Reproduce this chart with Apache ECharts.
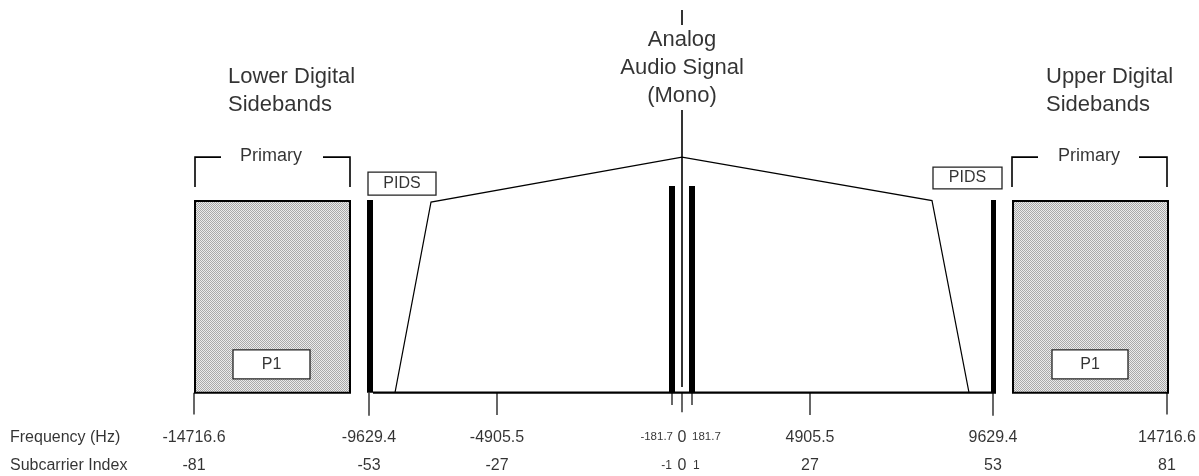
<!DOCTYPE html>
<html><head><meta charset="utf-8">
<script src="https://cdn.jsdelivr.net/npm/echarts@6/dist/echarts.min.js"></script>
<style>html,body{margin:0;padding:0;background:#fff}#c{width:1199px;height:476px}</style>
</head><body><div id="c"></div>
<script>
// ---- Axis ticks (schematic positions, carrier at 0) ----
const freqLabels = ['-14716.6','-9629.4','-4905.5','-181.7','0','181.7','4905.5','9629.4','14716.6'];
const subcarrierLabels = ['-81','-53','-27','-1','0','1','27','53','81'];
const tickPos = [-488,-313,-185,-10,0,10,128,311,485];
const tickDepth = [-0.092,-0.097,-0.094,-0.052,-0.082,-0.052,-0.094,-0.097,-0.092];
const freqLabelPos = [-488,-313,-185,-9,0,10,128,311,485];
const subLabelPos = [-488,-313,-185,-10,0,11,128,311,485];
const labelAlign = ['center','center','center','right','center','left','center','center','center'];
const smallLabel = [false,false,false,true,false,true,false,false,false];
const freqRowY = -0.187, subRowY = -0.308;
const rowTitles = ['Frequency (Hz)','Subcarrier Index'];

// ---- Spectrum blocks [x0, x1, y0, y1] ----
const primaryBlocks = [[-487,-332,0,0.805],[331,486,0,0.805]];
const p1Boxes = [[-449,-372,0.058,0.180],[370,446,0.058,0.180]];
const pidsBoxes = [[-314,-246,0.830,0.927],[251,320,0.856,0.948]];
const pidsBars = [[-315,-309,0,0.81],[309,314,0,0.81]];
const centerBars = [[-13,-7,0,0.868],[7,13,0,0.868]];

// ---- Lines ----
const analogShape = [[-287,0],[-251,0.801],[0,0.990],[250,0.807],[287,0]];
const baseline = [[-309,0],[314,0]];
const carrierLine = [[0,0.024],[0,1.188]];
const carrierTick = [[0,1.545],[0,1.608]];
const bracketLeft = [[[-487,0.864],[-487,0.99],[-461,0.99]],[[-359,0.99],[-332,0.99],[-332,0.864]]];
const bracketRight = [[[330,0.864],[330,0.99],[356,0.99]],[[457,0.99],[485,0.99],[485,0.864]]];

// ---- Text ----
const titles = [
  {text:'Lower Digital\nSidebands', x:-454, y:1.268, align:'left'},
  {text:'Analog\nAudio Signal\n(Mono)', x:0, y:1.364, align:'center'},
  {text:'Upper Digital\nSidebands', x:364, y:1.268, align:'left'}
];
const primaryLabels = [{text:'Primary', x:-411, y:0.995},{text:'Primary', x:407, y:0.995}];
const pidsLabels = ['PIDS','PIDS'];
const p1Labels = ['P1','P1'];

const FONT = '"Liberation Sans", Arial, Helvetica, sans-serif';
const INK = '#000';

// stipple pattern
const pc = document.createElement('canvas'); pc.width = 2; pc.height = 2;
const g = pc.getContext('2d');
g.fillStyle = '#ebebeb'; g.fillRect(0,0,2,2);
g.fillStyle = '#a9a9a9'; g.fillRect(0,0,1,1); g.fillRect(1,1,1,1);
const stipple = {image: pc, repeat: 'repeat'};

function rectSeries(data, style, z) {
  return {
    type: 'custom', z: z, silent: true,
    data: data,
    encode: {x:[0,1], y:[2,3]},
    renderItem: function(params, api) {
      const a = api.coord([api.value(0), api.value(3)]);
      const b = api.coord([api.value(1), api.value(2)]);
      return {type:'rect', shape:{x:a[0], y:a[1], width:b[0]-a[0], height:b[1]-a[1]}, style: style};
    }
  };
}
function boxLabelSeries(boxes, labels, fontSize, z) {
  return {
    type:'scatter', z:z, silent:true, symbolSize:1, itemStyle:{color:'rgba(0,0,0,0)'},
    data: boxes.map((b,i)=>({value:[(b[0]+b[1])/2,(b[2]+b[3])/2], label:{formatter: labels[i]}})),
    label:{show:true, position:'inside', fontFamily:FONT, fontSize:fontSize, color:INK, align:'center', verticalAlign:'middle'}
  };
}

const lineData = [];
function addLine(coords, width) { lineData.push({coords: coords, lineStyle:{width: width}}); }
addLine(analogShape, 1.2);
addLine(baseline, 2.2);
addLine(carrierLine, 1.6);
addLine(carrierTick, 1.6);
bracketLeft.concat(bracketRight).forEach(c => addLine(c, 1.6));
tickPos.forEach((x,i) => addLine([[x,0],[x,tickDepth[i]]], 1.2));

const textData = [];
titles.forEach(t => textData.push({value:[t.x,t.y], label:{formatter:t.text, align:t.align, fontSize:22, lineHeight:28}}));
primaryLabels.forEach(t => textData.push({value:[t.x,t.y], label:{formatter:t.text, align:'center', fontSize:18, backgroundColor:'#fff', padding:[0,4]}}));
freqLabels.forEach((s,i) => textData.push({value:[freqLabelPos[i],freqRowY], label:{formatter:s, align:labelAlign[i], fontSize: smallLabel[i]?11.5:16}}));
subcarrierLabels.forEach((s,i) => textData.push({value:[subLabelPos[i],subRowY], label:{formatter:s, align:labelAlign[i], fontSize: smallLabel[i]?12:16}}));
textData.push({value:[-672,freqRowY], label:{formatter:rowTitles[0], align:'left', fontSize:16}});
textData.push({value:[-672,subRowY], label:{formatter:rowTitles[1], align:'left', fontSize:16}});

const chart = echarts.init(document.getElementById('c'), null, {renderer:'canvas'});
chart.setOption({
  animation: false,
  backgroundColor: '#fff',
  grid: {left:0, right:0, top:0, bottom:0, containLabel:false},
  xAxis: {type:'value', min:-682, max:517, show:false},
  yAxis: {type:'value', min:-0.35, max:1.65, show:false},
  series: [
    rectSeries(primaryBlocks, {fill: stipple, stroke:'#000', lineWidth:2}, 2),
    rectSeries(p1Boxes, {fill:'#fff', stroke:'#222', lineWidth:1.3}, 3),
    rectSeries(pidsBoxes, {fill:'#fff', stroke:'#222', lineWidth:1.3}, 3),
    rectSeries(pidsBars, {fill:'#000'}, 4),
    rectSeries(centerBars, {fill:'#000'}, 4),
    {
      type:'lines', coordinateSystem:'cartesian2d', polyline:true, z:5, silent:true,
      lineStyle:{color:'#000', width:1.2, opacity:1},
      data: lineData
    },
    boxLabelSeries(pidsBoxes, pidsLabels, 16, 6),
    boxLabelSeries(p1Boxes, p1Labels, 16, 6),
    {
      type:'scatter', z:7, silent:true, symbolSize:1, itemStyle:{color:'rgba(0,0,0,0)'},
      data: textData,
      label:{show:true, position:'inside', fontFamily:FONT, color:INK, verticalAlign:'middle'}
    }
  ]
});
</script></body></html>
